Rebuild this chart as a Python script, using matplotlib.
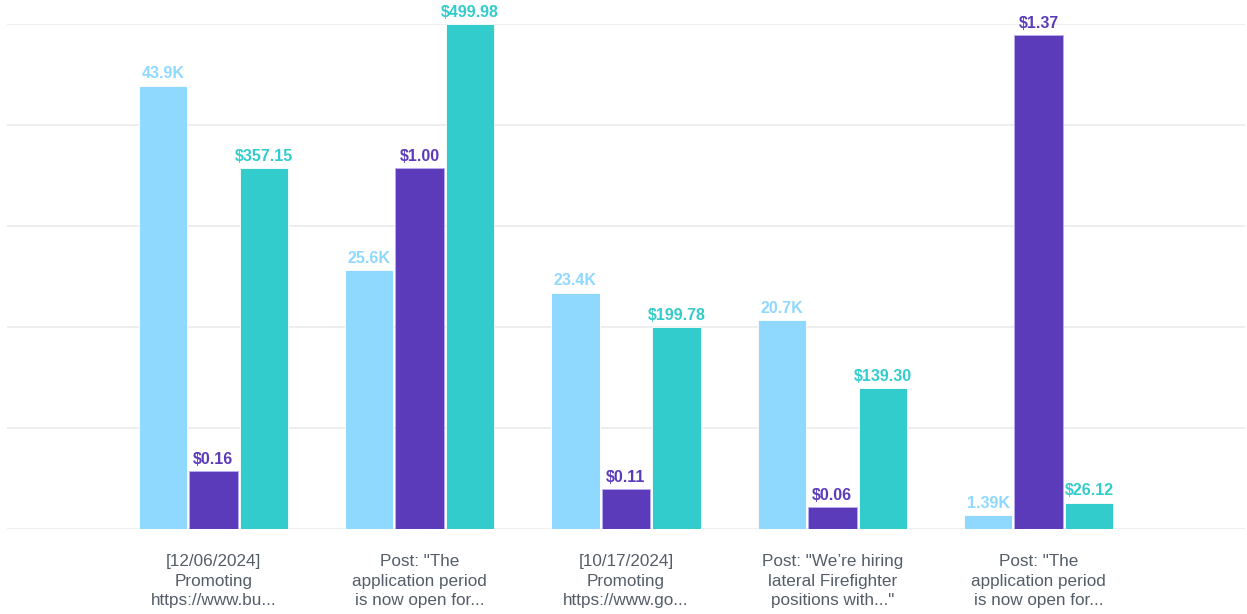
import numpy as np
import matplotlib
matplotlib.use("Agg")
import matplotlib.pyplot as plt

plt.rcParams['font.family'] = ['Liberation Sans', 'DejaVu Sans']

posts = ['[12/06/2024]\nPromoting\nhttps://www.bu...',
         'Post: "The\napplication period\nis now open for...',
         '[10/17/2024]\nPromoting\nhttps://www.go...',
         'Post: "We\u2019re hiring\nlateral Firefighter\npositions with..."',
         'Post: "The\napplication period\nis now open for...']
impressions = [43900, 25600, 23400, 20700, 1390]
cpc = [0.16, 1.00, 0.11, 0.06, 1.37]
spend = [357.15, 499.98, 199.78, 139.30, 26.12]

c_imp = '#8fd8ff'
c_cpc = '#5c3bbb'
c_spend = '#33cccc'

x = np.arange(len(posts))
w = 0.245

fig = plt.figure(figsize=(12.47, 6.14), dpi=100)
ax = fig.add_axes([7/1247, 1 - 529/614, 1238/1247, 505/614])
ax2 = ax.twinx()
ax3 = ax.twinx()

ax.set_ylim(0, 50000)
ax2.set_ylim(0, 1.4)
ax3.set_ylim(0, 500)
ax.set_xlim(-1.0, 5.0)

ax.set_yticks(np.arange(0, 50001, 10000))
ax.grid(axis='y', color='#ebebeb', linewidth=1.2)
ax.set_axisbelow(True)

b1 = ax.bar(x - w, impressions, w * 0.96, color=c_imp, edgecolor='white', linewidth=0.6, zorder=2)
b2 = ax2.bar(x, cpc, w * 0.96, color=c_cpc, edgecolor='#b9aef0', linewidth=0.6, zorder=2)
b3 = ax3.bar(x + w, spend, w * 0.96, color=c_spend, edgecolor='white', linewidth=0.6, zorder=2)

lab = dict(ha='center', va='bottom', fontsize=11.5, fontweight='bold',
           textcoords='offset points', xytext=(0, 3))
for xi, v in zip(x, impressions):
    ax.annotate(f'{v/1000:.3g}K', (xi - w, v), color=c_imp, **lab)
for xi, v in zip(x, cpc):
    ax2.annotate(f'${v:.2f}', (xi, v), color=c_cpc, **lab)
for xi, v in zip(x, spend):
    ax3.annotate(f'${v:,.2f}', (xi + w, v), color=c_spend, **lab)

for a in (ax, ax2, ax3):
    for s in a.spines.values():
        s.set_visible(False)
    a.tick_params(left=False, right=False, labelleft=False, labelright=False)

ax.set_xticks(x)
ax.set_xticklabels(posts, fontsize=12.3, color='#555d68', linespacing=1.38)
ax.tick_params(axis='x', length=0, pad=18)

fig.savefig('out.png', dpi=100)
